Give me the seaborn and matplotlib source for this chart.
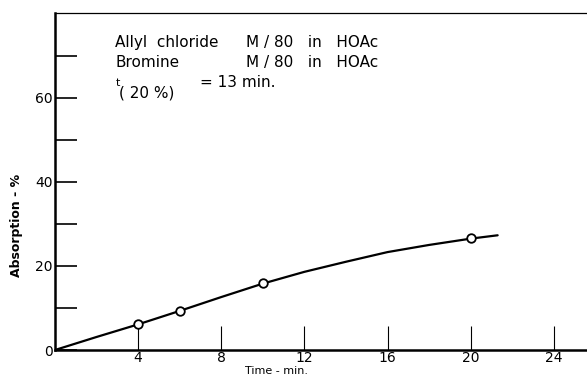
import numpy as np
import pandas as pd
import matplotlib
matplotlib.use("Agg")
import matplotlib.pyplot as plt
import seaborn as sns

# measured points (open circles)
time_min = [4, 6, 10, 20]
absorption = [6.1, 9.4, 15.9, 26.6]

# smooth curve
curve_time = [0, 2, 4, 6, 8, 10, 12, 14, 16, 18, 20, 21.3]
curve_abs = [0, 3.1, 6.1, 9.3, 12.6, 15.8, 18.6, 21.0, 23.3, 25.0, 26.5, 27.3]

x_ticks = [4, 8, 12, 16, 20, 24]
y_ticks = [0, 10, 20, 30, 40, 50, 60, 70]
y_ticklabels = ["0", "", "20", "", "40", "", "60", ""]

sns.set_style("ticks")
plt.rcParams['font.family'] = ['DejaVu Sans']
plt.rcParams['text.color'] = 'black'
plt.rcParams['xtick.color'] = 'black'
plt.rcParams['ytick.color'] = 'black'
plt.rcParams['axes.labelcolor'] = 'black'

fig = plt.figure(figsize=(5.87, 3.77), dpi=100)
ax = fig.add_axes([55 / 587, 27 / 377, 532 / 587, 337 / 377])

curve = pd.DataFrame({"t": curve_time, "a": curve_abs})
pts = pd.DataFrame({"t": time_min, "a": absorption})

sns.lineplot(data=curve, x="t", y="a", ax=ax, color="black", linewidth=1.6)
sns.scatterplot(data=pts, x="t", y="a", ax=ax, s=38, facecolor="white",
                edgecolor="black", linewidth=1.3, zorder=5)

ax.set_xlim(0, 25.6)
ax.set_ylim(0, 80.2)

ax.set_xticks(x_ticks)
ax.set_xticklabels([str(v) for v in x_ticks], fontsize=10)
ax.set_yticks(y_ticks)
ax.set_yticklabels(y_ticklabels, fontsize=10)
ax.tick_params(axis="x", direction="in", length=17, width=0.8, pad=1)
ax.tick_params(axis="y", direction="in", length=16, width=1.2, pad=1.5)

for side in ["left", "bottom"]:
    ax.spines[side].set_linewidth(1.8)
    ax.spines[side].set_color("black")
ax.spines["top"].set_linewidth(0.9)
ax.spines["top"].set_color("black")
ax.spines["right"].set_visible(False)

ax.set_xlabel("Time - min.", fontsize=8)
ax.set_ylabel("Absorption - %", fontsize=9, fontweight="bold")
ax.xaxis.set_label_coords(0.417, -0.046)
ax.yaxis.set_label_coords(-0.06, 0.37)

# annotation block
ax.text(2.9, 72.2, "Allyl  chloride", fontsize=11, va="baseline")
ax.text(9.2, 72.2, "M / 80   in   HOAc", fontsize=11, va="baseline")
ax.text(2.9, 67.4, "Bromine", fontsize=11, va="baseline")
ax.text(9.2, 67.4, "M / 80   in   HOAc", fontsize=11, va="baseline")
ax.text(2.9, 62.8, "t", fontsize=8, va="baseline")
ax.text(3.1, 60.0, "( 20 %)", fontsize=11, va="baseline")
ax.text(7.0, 62.7, "= 13 min.", fontsize=11, va="baseline")

fig.savefig("out.png", dpi=100)
